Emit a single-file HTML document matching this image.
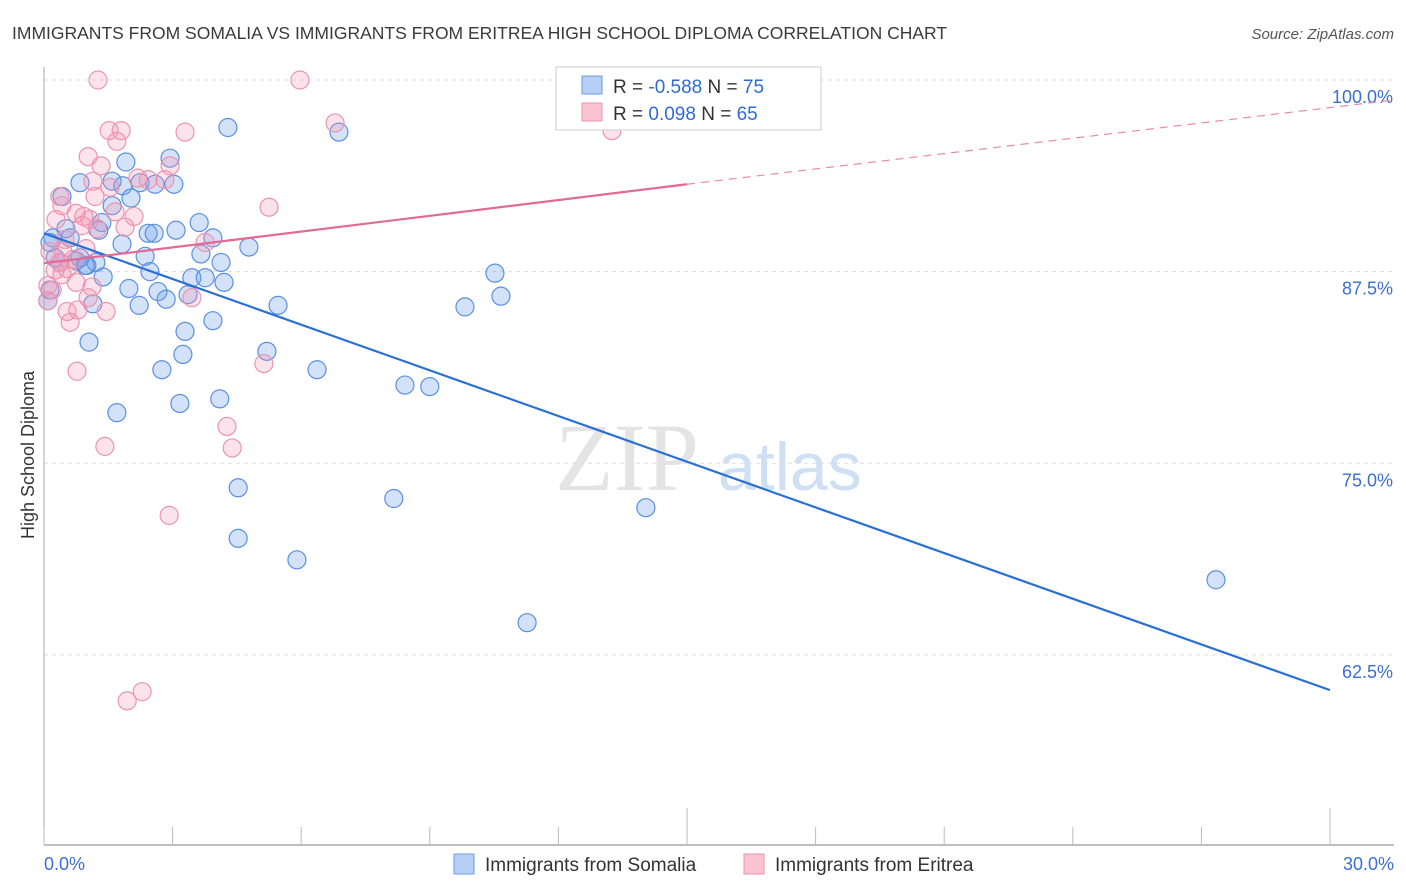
<!DOCTYPE html>
<html><head><meta charset="utf-8"><style>
body{margin:0;background:#fff;font-family:"Liberation Sans",sans-serif}
svg{display:block}
</style></head><body>
<svg id="chart" width="1406" height="892" viewBox="0 0 1406 892" xmlns="http://www.w3.org/2000/svg">
<text x="12" y="39" font-size="17.5" fill="#3a3a3a">IMMIGRANTS FROM SOMALIA VS IMMIGRANTS FROM ERITREA HIGH SCHOOL DIPLOMA CORRELATION CHART</text>
<text x="1394" y="39" font-size="15" fill="#555" text-anchor="end" font-style="italic">Source: ZipAtlas.com</text>
<g>
<text x="555" y="490" font-size="96" font-family="Liberation Serif,serif" fill="#e4e4e4">ZIP</text>
<text x="718" y="490" font-size="68" fill="#cfe0f5">atlas</text>
</g>
<g id="grid"></g>
<g id="axes"></g>
<g id="points"></g>
<g id="trends"></g>
<text transform="translate(34,455) rotate(-90)" font-size="18" fill="#333" text-anchor="middle">High School Diploma</text>
<g>
<rect x="556" y="67" width="265" height="63" fill="#fff" stroke="#ccc"/>
<rect x="582" y="76" width="20" height="18" fill="#b6d0f5" stroke="#6a9be0"/>
<rect x="582" y="103" width="20" height="18" fill="#f9c3d3" stroke="#eb94b0"/>
<text x="613" y="93" font-size="19" fill="#333">R = <tspan fill="#2f6bd3">-0.588</tspan>   N = <tspan fill="#2f6bd3">75</tspan></text>
<text x="613" y="120" font-size="19" fill="#333">R =  <tspan fill="#2f6bd3">0.098</tspan>   N = <tspan fill="#2f6bd3">65</tspan></text>
</g>
<g>
<rect x="454" y="854" width="20" height="20" fill="#b6d0f5" stroke="#6a9be0"/>
<text x="485" y="871" font-size="19" fill="#333">Immigrants from Somalia</text>
<rect x="744" y="854" width="20" height="20" fill="#f9c3d3" stroke="#eb94b0"/>
<text x="775" y="871" font-size="19" fill="#333">Immigrants from Eritrea</text>
</g>
</svg>
<script>
const yTicks=[100,87.5,75,62.5];
const yTickLabels=["100.0%","87.5%","75.0%","62.5%"];
const xTicks=[0,3,6,9,12,15,18,21,24,27,30];
const xTickLabels=["0.0%","30.0%"];
const somaliaX=[4.29,6.88,1.91,2.94,0.84,1.59,1.84,2.24,2.59,3.03,0.42,2.03,1.59,1.35,3.62,3.08,2.43,2.57,3.94,0.21,0.61,1.82,4.78,2.36,3.66,4.13,0.75,1.21,1.0,2.47,1.38,3.45,3.76,4.2,10.52,1.98,2.66,3.36,2.85,1.14,2.22,5.46,9.82,10.66,3.94,3.29,1.05,3.24,5.2,2.75,6.37,8.42,9.0,3.17,4.1,1.7,4.53,8.16,14.04,4.53,5.9,11.27,27.34,0.14,0.26,0.37,0.09,0.14,0.51,0.84,0.96,1.28];
const somaliaY=[96.9,96.6,94.65,94.9,93.3,93.4,93.1,93.3,93.2,93.2,92.4,92.3,91.8,90.7,90.7,90.2,90.0,90.0,89.7,89.7,89.7,89.3,89.1,88.5,88.65,88.1,88.2,88.1,87.9,87.5,87.15,87.1,87.1,86.8,87.4,86.4,86.2,86.0,85.7,85.4,85.3,85.3,85.2,85.9,84.3,83.6,82.9,82.1,82.3,81.1,81.1,80.1,80.0,78.9,79.2,78.3,73.4,72.7,72.1,70.1,68.7,64.6,67.4,89.4,88.4,88.1,85.6,86.3,90.3,88.4,87.9,90.2];
const eritreaX=[1.26,5.97,6.79,1.52,1.8,1.7,3.29,13.25,1.03,1.33,2.94,1.14,2.19,2.43,2.82,0.37,1.19,0.42,5.25,0.75,0.93,1.07,2.1,0.28,0.89,1.24,1.89,3.76,0.98,0.14,0.44,0.37,0.54,0.68,0.09,0.19,0.09,0.75,1.12,1.03,3.45,0.54,0.61,1.45,0.79,0.77,5.13,4.27,4.39,1.42,2.92,2.29,1.94,0.26,0.42,0.49,1.54,1.66];
const eritreaY=[100,100,97.2,96.7,96.7,96.0,96.6,96.7,95.0,94.4,94.4,93.4,93.6,93.5,93.5,92.4,92.4,91.8,91.7,91.3,91.1,90.9,91.1,90.9,90.5,90.3,90.4,89.4,89.0,88.8,88.8,88.1,87.7,88.3,86.6,86.3,85.6,86.8,86.5,85.8,85.8,84.9,84.2,84.9,85.0,81.0,81.5,77.4,76.0,76.1,71.6,60.1,59.5,87.6,87.3,89.6,93.0,91.4];
const somaliaTrend=[[0,90.0],[30,60.2]];
const eritreaTrendSolid=[[0,88.05],[15,93.2]];
const eritreaTrendDash=[[15,93.2],[31.5,98.7]];
const X0=44,X1=1330,Y100=80,PXPER=15.33;
const xs=v=>X0+v/30*(X1-X0);
const ys=v=>Y100+(100-v)*PXPER;
const NS="http://www.w3.org/2000/svg";
function mk(tag,attrs,parent){const e=document.createElementNS(NS,tag);for(const k in attrs)e.setAttribute(k,attrs[k]);document.getElementById(parent).appendChild(e);return e;}
yTicks.forEach((t,i)=>{
 const l=mk('line',{x1:X0,x2:1394,y1:ys(t),y2:ys(t),stroke:'#ddd','stroke-dasharray':'4,4'},'grid');
 
 
 const tx=mk('text',{x:1393,y:ys(t)+23,'font-size':18,fill:'#3a6fd0','text-anchor':'end'},'grid');
 tx.textContent=yTickLabels[i];
 
 
});
const ya=mk('line',{x1:X0,x2:X0,y1:67,y2:845,stroke:'#aaa'},'axes');


const xa=mk('line',{x1:X0,x2:1394,y1:845,y2:845,stroke:'#aaa','stroke-width':1.5},'axes');


xTicks.forEach(t=>{
 const long=(t===15||t===30);
 const tk=mk('line',{x1:xs(t),x2:xs(t),y1:long?808:827,y2:845,stroke:'#bbb'},'axes');
 
 
});
const xl0=mk('text',{x:X0,y:870,'font-size':18,fill:'#3a6fd0'},'axes');xl0.textContent=xTickLabels[0];


const xl1=mk('text',{x:1394,y:870,'font-size':18,fill:'#3a6fd0','text-anchor':'end'},'axes');xl1.textContent=xTickLabels[1];


somaliaX.forEach((v,i)=>{
 const c=mk('circle',{cx:xs(v),cy:ys(somaliaY[i]),r:9,fill:'rgba(110,160,235,0.3)',stroke:'#5a90e0','stroke-width':1.2},'points');
 
 
});
eritreaX.forEach((v,i)=>{
 const c=mk('circle',{cx:xs(v),cy:ys(eritreaY[i]),r:9,fill:'rgba(245,150,180,0.28)',stroke:'#eb94b0','stroke-width':1.2},'points');
 
 
});
const bt=mk('line',{x1:xs(somaliaTrend[0][0]),y1:ys(somaliaTrend[0][1]),x2:xs(somaliaTrend[1][0]),y2:ys(somaliaTrend[1][1]),stroke:'#2a6fd6','stroke-width':2.2},'trends');


const pt=mk('line',{x1:xs(eritreaTrendSolid[0][0]),y1:ys(eritreaTrendSolid[0][1]),x2:xs(eritreaTrendSolid[1][0]),y2:ys(eritreaTrendSolid[1][1]),stroke:'#e26a94','stroke-width':2.2},'trends');


const pd=mk('line',{x1:xs(eritreaTrendDash[0][0]),y1:ys(eritreaTrendDash[0][1]),x2:xs(eritreaTrendDash[1][0]),y2:ys(eritreaTrendDash[1][1]),stroke:'#e88aa8','stroke-width':1.2,'stroke-dasharray':'8,6'},'trends');


</script>
</body></html>
